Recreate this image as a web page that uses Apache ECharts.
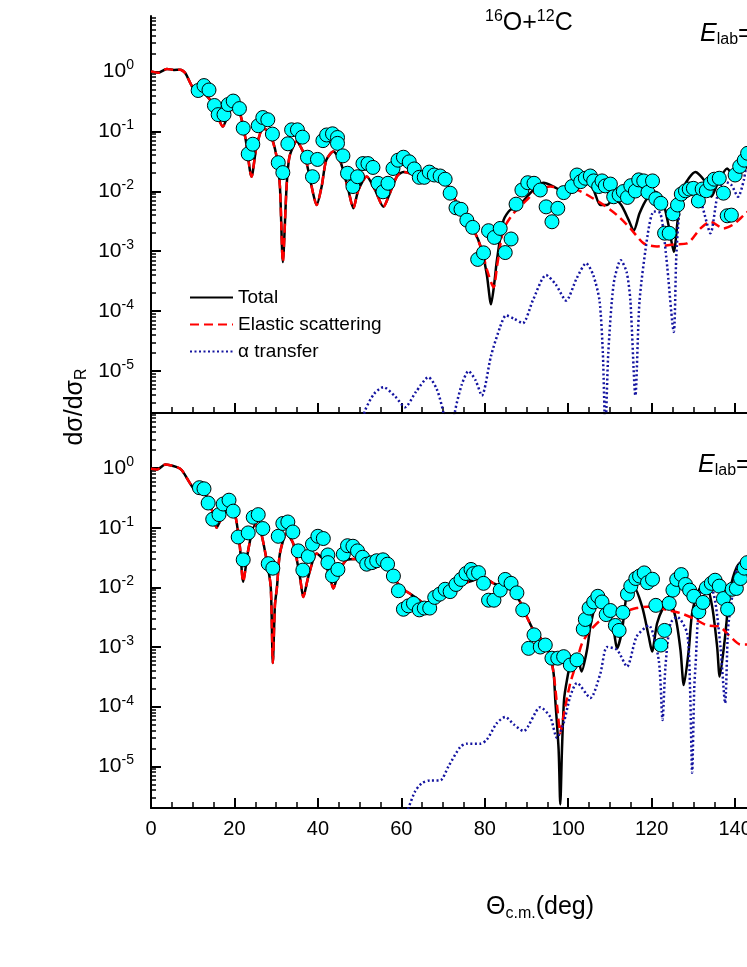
<!DOCTYPE html>
<html><head><meta charset="utf-8">
<script src="https://cdn.jsdelivr.net/npm/echarts@6/dist/echarts.min.js"></script>
<style>html,body{margin:0;padding:0;background:#fff}#c{width:747px;height:967px}</style>
</head><body><div id="c"></div>
<script>
// ---------- DATA ----------
const xTickStep = 20;
const yDecadeTicks = [1e-5, 1e-4, 1e-3, 1e-2, 1e-1, 1];
const legendNames = ['Total', 'Elastic scattering', 'α transfer'];

const topExp = [[11.3,0.48],[12.7,0.58],[13.9,0.49],[15.2,0.27],[16.1,0.19],[17.5,0.19],[18.5,0.28],[19.7,0.32],[21.2,0.24],[22.1,0.113],[23.3,0.042],[24.4,0.061],[25.7,0.124],[26.8,0.17],[28.0,0.156],[29.1,0.090],[30.5,0.030],[31.6,0.0205],[32.8,0.062],[33.7,0.106],[35.1,0.106],[36.3,0.080],[37.5,0.037],[38.7,0.0175],[39.9,0.034],[41.2,0.070],[42.1,0.087],[43.5,0.091],[44.7,0.079],[44.7,0.063],[46.0,0.039],[47.1,0.020],[48.4,0.012],[49.5,0.0175],[50.8,0.029],[52.0,0.029],[53.2,0.025],[54.4,0.0136],[55.6,0.0098],[56.8,0.0136],[58.0,0.024],[59.2,0.033],[60.5,0.037],[61.9,0.031],[63.1,0.0236],[64.3,0.0171],[65.5,0.0171],[66.7,0.0209],[67.9,0.0187],[69.3,0.018],[70.5,0.0159],[71.7,0.0093],[73.1,0.0053],[74.3,0.0050],[75.7,0.0033],[77.1,0.0025],[78.3,0.00073],[79.7,0.00094],[80.9,0.0022],[82.3,0.0017],[83.7,0.0024],[84.9,0.00095],[86.3,0.0016],[87.5,0.0061],[88.9,0.0105],[90.3,0.0139],[91.8,0.0136],[93.3,0.0105],[94.7,0.0055],[96.1,0.0031],[97.5,0.0052],[98.9,0.0095],[100.9,0.012],[102.1,0.0187],[103.0,0.0145],[104.1,0.0165],[105.3,0.018],[106.1,0.0149],[107.3,0.012],[108.1,0.0149],[108.9,0.0123],[110.1,0.0132],[110.9,0.0081],[112.2,0.0087],[113.2,0.0099],[114.2,0.0079],[115.0,0.0124],[116.1,0.0101],[116.9,0.0155],[118.1,0.0149],[119.1,0.0096],[120.2,0.0149],[121.0,0.0075],[122.2,0.0063],[123.1,0.0020],[124.2,0.0020],[125.1,0.0042],[126.2,0.0059],[127.1,0.009],[128.1,0.0102],[129.0,0.0109],[130.0,0.0112],[131.2,0.0069],[132.1,0.0109],[133.1,0.0102],[134.1,0.0136],[135.0,0.0159],[136.2,0.0165],[137.2,0.0093],[138.1,0.0039],[139.1,0.0040],[140.0,0.0187],[141.1,0.026],[142.2,0.033],[143.0,0.043]];

const topTotal = [[0,1.0],[1.7,0.95],[3.8,1.1],[5.5,1.06],[7,1.07],[8.2,0.94],[10.1,0.53],[11.8,0.48],[14.1,0.34],[15.7,0.20],[17.2,0.12],[18.5,0.19],[19.7,0.26],[21.3,0.20],[22.7,0.072],[24.1,0.0175],[25.3,0.056],[26.9,0.113],[28.5,0.093],[30.1,0.038],[30.9,0.012],[31.6,0.00066],[32.5,0.012],[33.2,0.038],[34.9,0.068],[36.9,0.038],[38.5,0.012],[39.7,0.0059],[40.9,0.012],[42.0,0.033],[43.7,0.046],[45.3,0.033],[47.3,0.0105],[48.5,0.0052],[49.7,0.0105],[51.7,0.0176],[53.7,0.0105],[55.7,0.0055],[57.3,0.0095],[59.0,0.018],[60.5,0.021],[62.1,0.020],[64.5,0.0175],[66.9,0.0187],[68.5,0.017],[70.5,0.0145],[72.5,0.0081],[75.0,0.0040],[77.3,0.0023],[79.3,0.00104],[80.5,0.0004],[81.5,0.00013],[82.3,0.0003],[82.9,0.0007],[84.5,0.0033],[86.1,0.0049],[87.7,0.0052],[90.1,0.0081],[92.5,0.012],[94.1,0.0139],[96.5,0.012],[98.9,0.0098],[102.1,0.012],[104.5,0.0145],[106.1,0.0105],[107.7,0.0059],[109.3,0.0059],[110.9,0.0076],[112.7,0.0059],[114.5,0.0033],[115.7,0.0022],[117.1,0.0043],[118.9,0.0076],[120.9,0.0098],[122.5,0.0076],[124.1,0.0026],[125.3,0.00098],[126.5,0.0049],[127.7,0.012],[130.5,0.021],[132.5,0.0155],[134.3,0.0081],[136.0,0.0145],[138.1,0.024],[139.3,0.020],[141.3,0.026],[142.9,0.046],[145,0.065]];

const topElastic = [[0,1.0],[1.7,0.95],[3.8,1.1],[5.5,1.06],[7,1.07],[8.2,0.94],[10.1,0.53],[11.8,0.48],[14.1,0.34],[15.7,0.20],[17.2,0.12],[18.5,0.19],[19.7,0.26],[21.3,0.20],[22.7,0.072],[24.1,0.0175],[25.3,0.056],[26.9,0.113],[28.5,0.093],[30.1,0.038],[30.9,0.012],[31.6,0.00066],[32.5,0.012],[33.2,0.038],[34.9,0.068],[36.9,0.038],[38.5,0.012],[39.7,0.0059],[40.9,0.012],[42.0,0.033],[43.7,0.046],[45.3,0.033],[47.3,0.0105],[48.5,0.0052],[49.7,0.0105],[51.7,0.0176],[53.7,0.0105],[55.7,0.0055],[57.3,0.0095],[59.0,0.018],[60.5,0.021],[62.1,0.020],[64.5,0.0175],[66.9,0.0187],[68.5,0.017],[70.5,0.0145],[72.5,0.0081],[75.0,0.0040],[77.3,0.0023],[79.3,0.00104],[80.5,0.0005],[82.1,0.00025],[83.0,0.0006],[84.5,0.0023],[86.9,0.0043],[90.1,0.0072],[92.5,0.0105],[95.7,0.012],[98.9,0.0108],[102.1,0.0105],[105.3,0.0081],[108.5,0.0059],[111.7,0.0040],[114.9,0.0024],[118.1,0.00135],[121.3,0.0012],[125.3,0.0013],[128.5,0.00135],[131.7,0.0024],[134.1,0.0031],[137.2,0.0024],[139.6,0.0028],[142.1,0.0040],[145,0.006]];

const topAlpha = [[50,1e-6],[51.3,2.2e-6],[53.5,4.2e-6],[55.7,5.4e-6],[58.5,3.8e-6],[60.9,2.5e-6],[63.5,4.5e-6],[66.5,7.9e-6],[68.5,5e-6],[70.1,2e-6],[71.5,5e-7],[72.9,2.2e-6],[74.5,6e-6],[76.1,1e-5],[77.8,7e-6],[79.3,3.9e-6],[81.5,1.8e-5],[83.7,5.5e-5],[85.1,8.5e-5],[87,7.5e-5],[89.1,6.3e-5],[91.5,1.5e-4],[94.7,4.0e-4],[97,2.8e-4],[99.5,1.5e-4],[102,3.5e-4],[104.3,6.3e-4],[106,4e-4],[107.5,1.5e-4],[108.3,2e-5],[108.9,1e-6],[109.6,2e-5],[110.9,2.9e-4],[112.6,7.1e-4],[114,4.5e-4],[114.9,1.5e-4],[116.1,3.9e-6],[117.1,1.5e-4],[119.1,0.002],[120.5,0.0046],[122.1,0.0043],[123.5,8e-4],[125.3,4.5e-5],[125.9,0.0008],[126.7,0.005],[128,0.011],[130,0.012],[132,0.006],[134.1,0.002],[135.7,0.008],[137.2,0.0145],[139,0.013],[140.7,0.0081],[142.1,0.0155],[143,0.035],[145,0.06]];

const bottomExp = [[11.6,0.47],[12.7,0.45],[13.7,0.26],[14.8,0.139],[16.3,0.166],[17.3,0.25],[18.7,0.29],[19.7,0.19],[20.9,0.070],[22.1,0.029],[23.3,0.082],[24.5,0.15],[25.7,0.166],[26.8,0.097],[28.1,0.025],[29.2,0.021],[30.5,0.072],[31.6,0.118],[32.8,0.125],[34.0,0.085],[35.3,0.041],[36.4,0.0195],[37.7,0.033],[38.7,0.053],[40.0,0.072],[41.3,0.066],[42.4,0.035],[42.4,0.026],[43.5,0.0157],[44.8,0.020],[46.1,0.036],[47.1,0.050],[48.4,0.049],[49.5,0.041],[50.7,0.032],[51.7,0.0245],[52.9,0.026],[54.1,0.028],[55.6,0.029],[56.7,0.0245],[58.1,0.0155],[59.3,0.0088],[60.5,0.0043],[61.7,0.0049],[62.9,0.0054],[64.3,0.0042],[65.5,0.0045],[66.8,0.0045],[68.0,0.0068],[69.2,0.0077],[70.5,0.0093],[71.7,0.0085],[73.1,0.0112],[74.3,0.0136],[75.5,0.0171],[76.7,0.020],[77.3,0.017],[78.5,0.0177],[79.7,0.0117],[80.9,0.0061],[82.2,0.0061],[83.7,0.009],[84.9,0.0136],[86.3,0.0117],[87.7,0.0081],[89.1,0.0042],[90.5,0.00095],[91.8,0.0016],[93.3,0.0010],[94.5,0.00108],[96.1,0.00065],[97.5,0.00065],[98.9,0.00069],[100.5,0.0005],[102.1,0.00061],[103.6,0.0020],[104.1,0.0029],[105.0,0.0045],[106.1,0.0057],[107.1,0.0071],[108.1,0.0057],[109.1,0.0035],[110.1,0.0041],[111.3,0.0023],[112.2,0.0019],[113.1,0.0038],[114.2,0.0077],[115.0,0.0105],[116.2,0.0141],[117.1,0.0155],[118.2,0.0175],[119.0,0.012],[120.2,0.0137],[121.0,0.0050],[122.2,0.00108],[123.1,0.0019],[124.2,0.0054],[125.1,0.009],[126.0,0.0136],[127.1,0.0164],[128.1,0.0112],[129.1,0.009],[130.1,0.0071],[131.3,0.0039],[132.3,0.0056],[133.1,0.0098],[134.3,0.0117],[135.2,0.0132],[136.2,0.0105],[137.2,0.0065],[138.2,0.0043],[139.3,0.0093],[140.3,0.0096],[141.3,0.0141],[142.2,0.021],[142.9,0.026]];

const bottomTotal = [[0,0.98],[1.5,0.95],[3.4,1.15],[6.2,1.04],[7.4,0.92],[9.4,0.55],[10.6,0.43],[11.8,0.45],[13.4,0.33],[14.9,0.17],[15.7,0.10],[17.3,0.17],[18.5,0.22],[20.1,0.17],[21.3,0.048],[22.1,0.0124],[23.3,0.042],[24.9,0.11],[26.1,0.097],[27.7,0.029],[28.7,0.0102],[29.2,0.00054],[29.7,0.005],[30.2,0.0102],[30.9,0.037],[32.5,0.080],[34.1,0.054],[35.7,0.015],[36.5,0.0069],[37.7,0.015],[39.7,0.037],[41.3,0.029],[42.9,0.015],[43.7,0.0096],[44.9,0.017],[46.9,0.029],[49.3,0.030],[51.7,0.022],[53.3,0.021],[55.7,0.025],[57.3,0.020],[59.7,0.0102],[62.1,0.0078],[64.5,0.0060],[66.1,0.0048],[67.7,0.0049],[69.3,0.0069],[72.5,0.0102],[74.9,0.0117],[77.3,0.0132],[79.3,0.015],[82.1,0.0117],[84.5,0.0102],[86.9,0.0085],[88.9,0.005],[90.1,0.0032],[91.7,0.0019],[94.1,0.00123],[95.5,0.00079],[96.5,0.00036],[96.9,0.00013],[97.7,0.000019],[98.1,0.0000023],[98.5,0.000019],[99.0,0.00013],[99.7,0.00028],[100.5,0.0005],[102.1,0.00069],[103.2,0.00039],[104.5,0.0009],[105.3,0.0022],[106.5,0.005],[107.7,0.0075],[109.3,0.0048],[110.9,0.0019],[111.7,0.00095],[112.9,0.0019],[114.1,0.0079],[115.7,0.0102],[117.7,0.0048],[119.3,0.0015],[120.1,0.00084],[121.3,0.0025],[122.9,0.0048],[124.1,0.0061],[125.7,0.0032],[126.9,0.0009],[127.7,0.00023],[128.9,0.0009],[129.7,0.0037],[131.3,0.0090],[132.9,0.0117],[134.5,0.0048],[135.7,0.001],[136.3,0.00032],[137.5,0.0013],[138.8,0.009],[140.4,0.022],[142.1,0.029],[145,0.032]];

const bottomElastic = [[0,0.98],[1.5,0.95],[3.4,1.15],[6.2,1.04],[7.4,0.92],[9.4,0.55],[10.6,0.43],[11.8,0.45],[13.4,0.33],[14.9,0.17],[15.7,0.10],[17.3,0.17],[18.5,0.22],[20.1,0.17],[21.3,0.048],[22.1,0.0124],[23.3,0.042],[24.9,0.11],[26.1,0.097],[27.7,0.029],[28.7,0.0102],[29.2,0.00054],[29.7,0.005],[30.2,0.0102],[30.9,0.037],[32.5,0.080],[34.1,0.054],[35.7,0.015],[36.5,0.0069],[37.7,0.015],[39.7,0.037],[41.3,0.029],[42.9,0.015],[43.7,0.0096],[44.9,0.017],[46.9,0.029],[49.3,0.030],[51.7,0.022],[53.3,0.021],[55.7,0.025],[57.3,0.020],[59.7,0.0102],[62.1,0.0078],[64.5,0.0060],[66.1,0.0048],[67.7,0.0049],[69.3,0.0069],[72.5,0.0102],[74.9,0.0117],[77.3,0.0132],[79.3,0.015],[82.1,0.0117],[84.5,0.0102],[86.9,0.0085],[88.9,0.005],[90.1,0.0032],[91.7,0.0019],[94.1,0.00123],[95.5,0.00079],[96.5,0.00036],[97.5,0.00008],[98.1,0.000036],[98.7,0.00006],[99.3,0.0001],[100.5,0.00025],[101.7,0.00047],[103.3,0.00115],[105.3,0.0019],[107.7,0.0028],[110.1,0.0032],[113.3,0.0039],[116.4,0.0045],[119.7,0.0048],[123.6,0.0042],[126.9,0.0037],[130.1,0.0030],[133.3,0.0023],[136.3,0.0022],[138.8,0.0015],[141.3,0.0011],[143,0.0011],[145,0.0012]];

const bottomAlpha = [[60,1e-6],[61.7,2e-6],[63.3,3.8e-6],[64.9,5.2e-6],[66.9,5.8e-6],[69.3,5.8e-6],[71.3,1e-5],[74.1,2.1e-5],[75.7,2.4e-5],[78.9,2.4e-5],[80.5,2.8e-5],[82.9,5.3e-5],[84.9,6.7e-5],[87,5e-5],[89.3,3.9e-5],[93.3,9.8e-5],[95.7,6.7e-5],[97.3,3e-5],[98.9,5.3e-5],[100.5,1.5e-4],[102.1,2.5e-4],[105.3,1.4e-4],[107.7,3.6e-4],[109.3,0.001],[111.7,9e-4],[114.1,4.7e-4],[116.4,0.0015],[119.3,0.0023],[121.7,6e-4],[122.6,6e-5],[123.3,4.7e-4],[124.5,0.0025],[126.1,0.0032],[128.5,0.0017],[129.2,2e-4],[129.7,7.8e-6],[130.2,2e-4],[130.5,4.7e-4],[131.7,0.0079],[134.1,0.0102],[135.3,0.0054],[136.5,0.001],[137.6,1.15e-4],[138.3,0.002],[139,0.005],[140.4,0.02],[142.1,0.03],[145,0.035]];

// ---------- CHART ----------
const FONT = 'Liberation Sans, Arial, sans-serif';
const yMin = 2e-6, yMax = 8.4;
const minorVals = [];
for (let d = -6; d <= 0; d++) for (let m = 2; m <= 9; m++) { const v = m * Math.pow(10, d); if (v > yMin && v < yMax) minorVals.push(v); }

function xAxisCfg(gi, showLabel) {
  return {
    type: 'value', gridIndex: gi, min: 0, max: 180, interval: xTickStep,
    axisLine: { show: true, onZero: false, lineStyle: { color: '#000', width: 2 } },
    axisTick: { show: true, inside: true, length: 10, lineStyle: { color: '#000', width: 2 } },
    minorTick: { show: true, splitNumber: 4, length: 6, lineStyle: { color: '#000', width: 1.5 } },
    splitLine: { show: false }, minorSplitLine: { show: false },
    axisLabel: { show: showLabel, fontSize: 20, color: '#000', margin: 11, fontFamily: FONT }
  };
}
function yMajor(gi) {
  return {
    type: 'log', logBase: 10, gridIndex: gi, min: yMin, max: yMax, position: 'left',
    axisLine: { show: true, lineStyle: { color: '#000', width: 2 } },
    axisTick: { show: true, inside: true, length: 10, customValues: yDecadeTicks, lineStyle: { color: '#000', width: 2 } },
    splitLine: { show: false },
    axisLabel: {
      customValues: yDecadeTicks, margin: 17, color: '#000', fontFamily: FONT, fontSize: 21,
      formatter: v => '10{s|' + Math.round(Math.log10(v)) + '}',
      rich: { s: { fontSize: 14, fontFamily: FONT, color: '#000', verticalAlign: 'top', padding: [0, 0, 12, 0] } }
    }
  };
}
function yMinor(gi) {
  return {
    type: 'log', logBase: 10, gridIndex: gi, min: yMin, max: yMax, position: 'left', offset: 0,
    axisLine: { show: false },
    axisTick: { show: true, inside: true, length: 5, customValues: minorVals, lineStyle: { color: '#000', width: 1.5 } },
    axisLabel: { show: false }, splitLine: { show: false }
  };
}
function lineSeries(name, data, xi, yi, style) {
  return { name, type: 'line', data, xAxisIndex: xi, yAxisIndex: yi, symbol: 'none', showSymbol: false,
    smooth: 0.25, lineStyle: style, itemStyle: { color: style.color }, animation: false };
}
function scatter(data, xi, yi) {
  return { name: 'Experiment', type: 'scatter', data, xAxisIndex: xi, yAxisIndex: yi, symbolSize: 14,
    itemStyle: { color: '#00ffff', borderColor: '#000', borderWidth: 1, opacity: 1 }, z: 5, animation: false };
}
const sTotal = { color: '#000', width: 2.5, type: 'solid' };
const sElastic = { color: '#ff0000', width: 2.5, type: [9, 5] };
const sAlpha = { color: '#1414a0', width: 2.5, type: [2, 2.5] };

const chart = echarts.init(document.getElementById('c'), null, { renderer: 'canvas' });
chart.setOption({
  animation: false,
  backgroundColor: '#fff',
  textStyle: { fontFamily: FONT },
  grid: [
    { left: 151, top: 16, width: 751, height: 397, outerBoundsMode: 'none', containLabel: false },
    { left: 151, top: 413, width: 751, height: 395, outerBoundsMode: 'none', containLabel: false }
  ],
  xAxis: [xAxisCfg(0, false), xAxisCfg(1, true)],
  yAxis: [yMajor(0), yMinor(0), yMajor(1), yMinor(1)],
  legend: {
    data: legendNames, orient: 'vertical', left: 189, top: 288, padding: 0, itemWidth: 43, itemHeight: 14, itemGap: 8,
    itemStyle: { opacity: 0 },
    textStyle: { fontSize: 19, color: '#000', fontFamily: FONT }, inactiveColor: '#ccc', selectedMode: false
  },
  series: [
    lineSeries('Total', topTotal, 0, 0, sTotal),
    lineSeries('Elastic scattering', topElastic, 0, 0, sElastic),
    lineSeries('α transfer', topAlpha, 0, 0, sAlpha),
    scatter(topExp, 0, 0),
    lineSeries('Total', bottomTotal, 1, 2, sTotal),
    lineSeries('Elastic scattering', bottomElastic, 1, 2, sElastic),
    lineSeries('α transfer', bottomAlpha, 1, 2, sAlpha),
    scatter(bottomExp, 1, 2)
  ],
  graphic: [
    { type: 'text', x: 485, y: 9, style: { text: '{s|16}{m|O+}{s|12}{m|C}', fill: '#000',
      rich: { m: { fontSize: 25, fontFamily: FONT, lineHeight: 28 }, s: { fontSize: 16, fontFamily: FONT, verticalAlign: 'top', lineHeight: 28, padding: [0, 0, 8, 0] } } } },
    { type: 'text', x: 700, y: 20, style: { text: '{e|E}{b|lab}{m|=}', fill: '#000',
      rich: { e: { fontSize: 25, fontStyle: 'italic', fontFamily: FONT, lineHeight: 28 }, m: { fontSize: 25, fontFamily: FONT, lineHeight: 28 }, b: { fontSize: 16, fontFamily: FONT, verticalAlign: 'bottom', lineHeight: 28, padding: [10, 0, 0, 0] } } } },
    { type: 'text', x: 698, y: 451, style: { text: '{e|E}{b|lab}{m|=}', fill: '#000',
      rich: { e: { fontSize: 25, fontStyle: 'italic', fontFamily: FONT, lineHeight: 28 }, m: { fontSize: 25, fontFamily: FONT, lineHeight: 28 }, b: { fontSize: 16, fontFamily: FONT, verticalAlign: 'bottom', lineHeight: 28, padding: [10, 0, 0, 0] } } } },
    { type: 'text', x: 75, y: 407, rotation: Math.PI / 2, style: { text: '{m|dσ/dσ}{b|R}', fill: '#000', align: 'center', verticalAlign: 'middle',
      rich: { m: { fontSize: 25, fontFamily: FONT, lineHeight: 30 }, b: { fontSize: 16, fontFamily: FONT, verticalAlign: 'bottom', lineHeight: 30, padding: [10, 0, 0, 0] } } } },
    { type: 'text', x: 540, y: 907, style: { text: '{m|Θ}{b|c.m.}{m|(deg)}', fill: '#000', align: 'center', verticalAlign: 'middle',
      rich: { m: { fontSize: 25, fontFamily: FONT, lineHeight: 30 }, b: { fontSize: 16, fontFamily: FONT, verticalAlign: 'bottom', lineHeight: 30, padding: [10, 0, 0, 0] } } } }
  ]
});
</script></body></html>
